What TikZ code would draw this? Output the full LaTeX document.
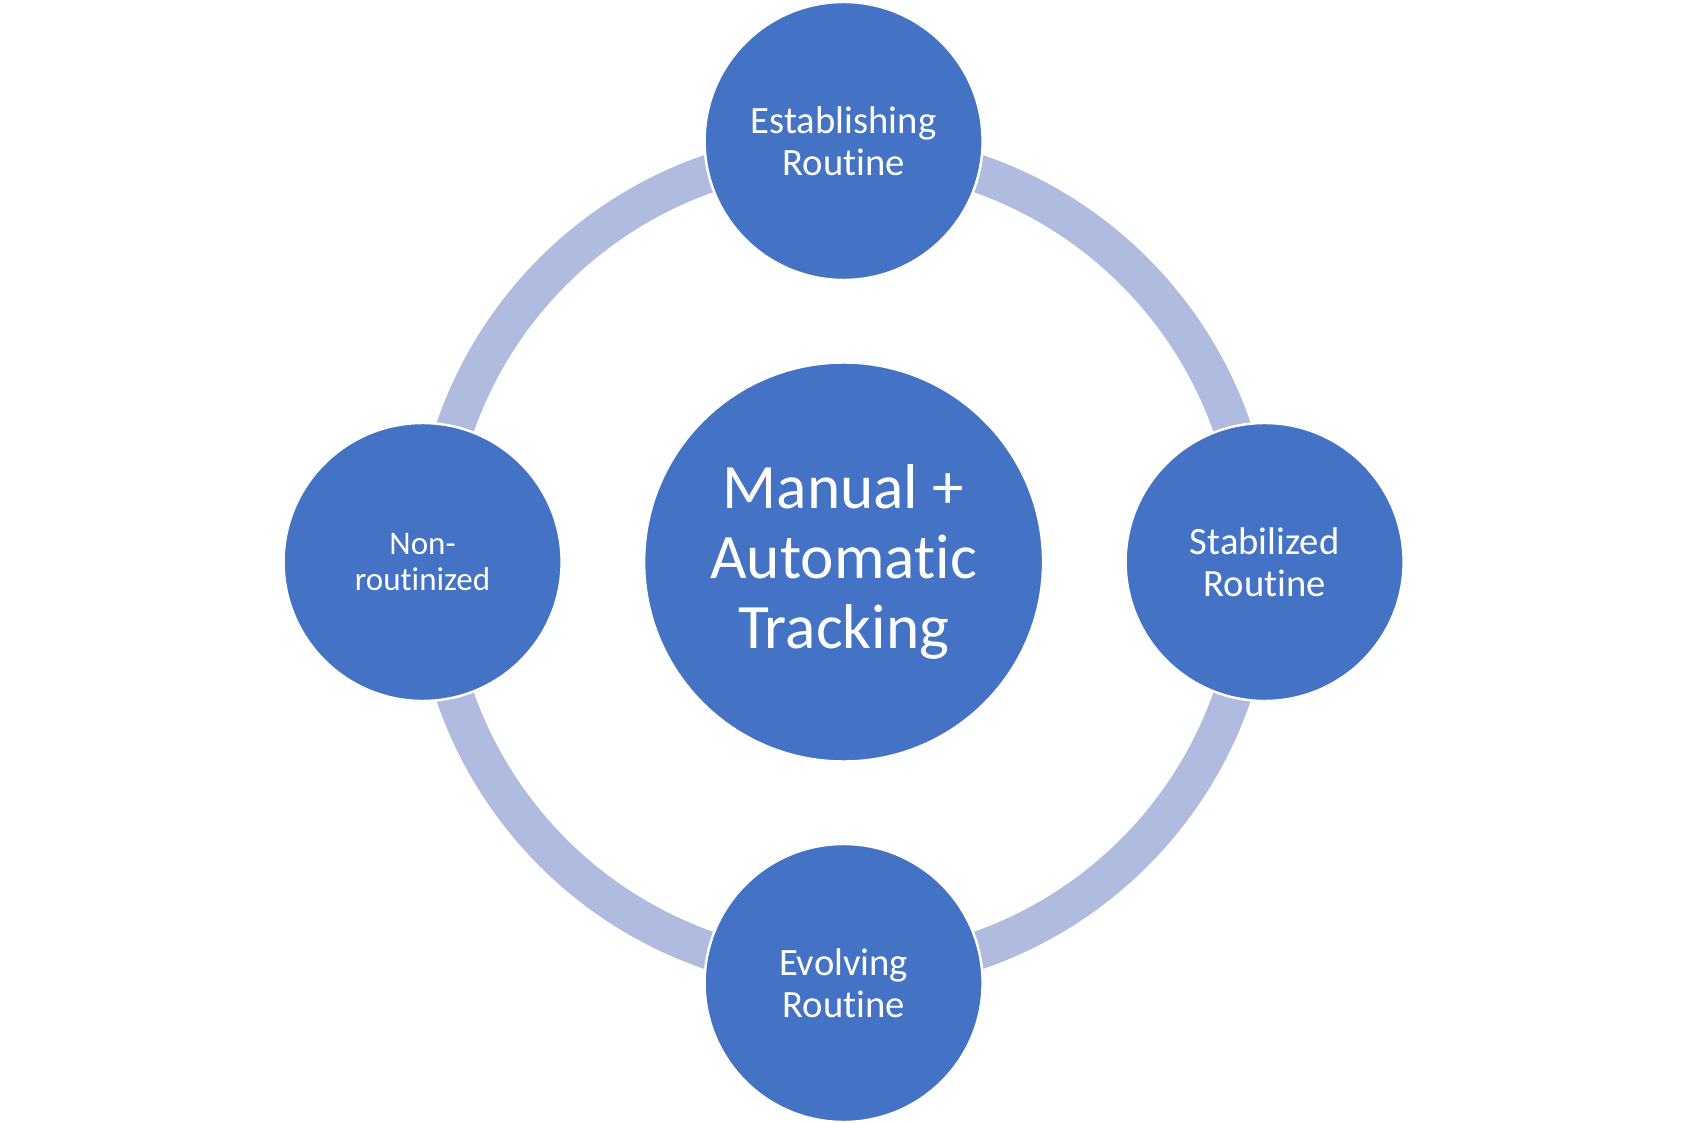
\documentclass[tikz,border=0pt]{standalone}
\usepackage{fontspec}
\setmainfont[Ligatures=NoCommon]{Carlito}
\usetikzlibrary{positioning,backgrounds}
\definecolor{stageblue}{HTML}{4472C4}
\definecolor{ringblue}{HTML}{B0BCDF}

\begin{document}
\begin{tikzpicture}[node distance=4.21cm, on grid,
    hub/.style={circle, fill=stageblue, draw=white, line width=0.7pt, minimum size=3.99cm,
      inner sep=0pt, text=white, align=center, font=\fontsize{18}{19.8}\selectfont},
    stage/.style={circle, fill=stageblue, draw=white, line width=0.7pt, minimum size=2.78cm,
      inner sep=0pt, text=white, align=center, font=\fontsize{11}{11.8}\selectfont},
    ring/.style={draw=ringblue, line width=0.38cm}]
  \useasboundingbox (0,0) rectangle (16.85,11.22);
  \node[hub] (hub) at (8.436,5.60) {Manual +\\Automatic\\Tracking};
  \node[stage] (est) [above=of hub] {Establishing\\Routine};
  \node[stage] (stab) [right=of hub] {Stabilized\\Routine};
  \node[stage] (evol) [below=of hub] {Evolving\\Routine};
  \node[stage, font=\fontsize{9.4}{10.1}\selectfont] (nonr) [left=of hub] {Non-\\routinized};

  % the cycle behind the stages
  \begin{scope}[on background layer]
    \draw[ring] (hub) circle[radius=4.11cm];
  \end{scope}
\end{tikzpicture}
\end{document}
